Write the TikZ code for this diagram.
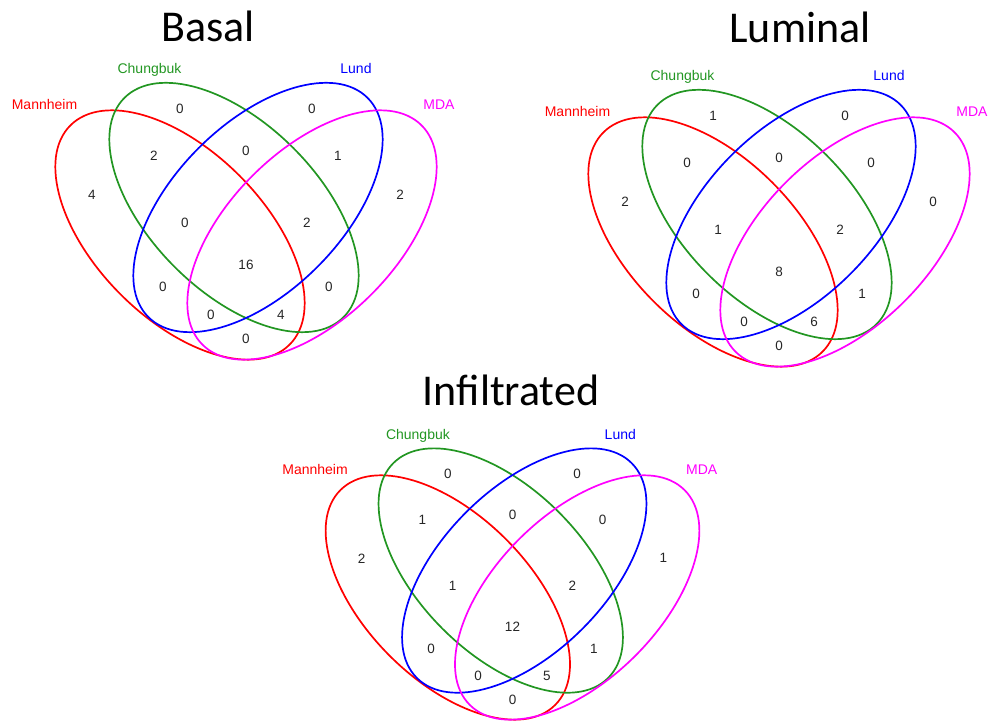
\documentclass[tikz,border=0pt]{standalone}
\usepackage{fontspec}
\setmainfont{Liberation Sans}
\newfontfamily\titlefont{Carlito}
\usetikzlibrary{positioning}
\definecolor{vred}{RGB}{255,0,0}
\definecolor{vgreen}{RGB}{34,150,34}
\definecolor{vblue}{RGB}{0,0,255}
\definecolor{vmagenta}{RGB}{255,0,255}

% four ellipses, set names and region anchors of one diagram
\newcommand{\vennsets}[1]{%
  \draw[setline, vred, shift={(-66,0)}, rotate=-45] (0,0) ellipse [x radius=155, y radius=84];
  \draw[setline, vgreen, shift={(-12,27.5)}, rotate=-45] (0,0) ellipse [x radius=155, y radius=84];
  \draw[setline, vblue, shift={(12,27.5)}, rotate=45] (0,0) ellipse [x radius=155, y radius=84];
  \draw[setline, vmagenta, shift={(66,0)}, rotate=45] (0,0) ellipse [x radius=155, y radius=84];
  \node[setlabel, text=vred] (#1-man) at (-201.5,125) {Mannheim};
  \node[setlabel, text=vgreen] (#1-chu) at (-96.5,161.5) {Chungbuk};
  \node[setlabel, text=vblue] (#1-lun) at (110,161.5) {Lund};
  \node[setlabel, text=vmagenta] (#1-mda) at (193,125) {MDA};
  % regions
  \coordinate (#1-r) at (-154,40);
  \coordinate (#1-g) at (-66,126);
  \coordinate (#1-b) at (66,126);
  \coordinate (#1-m) at (154,40);
  \coordinate (#1-rg) at (-92,79);
  \coordinate (#1-gb) at (0,84);
  \coordinate (#1-bm) at (92,79);
  \coordinate (#1-rgb) at (-61,12);
  \coordinate (#1-gbm) at (61,12);
  \coordinate (#1-all) at (0,-30);
  \coordinate (#1-rb) at (-83,-52);
  \coordinate (#1-gm) at (83,-52);
  \coordinate (#1-rbm) at (-35,-80);
  \coordinate (#1-rgm) at (35,-80);
  \coordinate (#1-rm) at (0,-104);
}

\begin{document}
\begin{tikzpicture}[
    x=1pt, y=1pt,
    setline/.style={line width=1.7pt},
    setlabel/.style={anchor=base, inner sep=0pt, font=\fontsize{14}{16}\selectfont},
    count/.style={inner sep=0pt, text=black!85, font=\fontsize{13.5}{16}\selectfont},
    heading/.style={anchor=base, inner sep=0pt, font=\titlefont\fontsize{44}{50}\selectfont}]

    \useasboundingbox (0,0) rectangle (991,722);

    % Titles
    \node[heading] (tbas) at (208,680) {Basal};
    \node[heading] (tlum) at (800,679) {Luminal};
    \node[heading] (tinf) at (511,316) {Infiltrated};

    % Basal
    \begin{scope}[shift={(246,487)}]
        \vennsets{bas}
        \foreach \rg/\n in {r/4, g/0, b/0, m/2, rg/2, gb/0, bm/1, rgb/0, gbm/2,
                            all/16, rb/0, gm/0, rbm/0, rgm/4, rm/0}
            \node[count] (bas-n\rg) at (bas-\rg) {\n};
    \end{scope}

    % Luminal
    \begin{scope}[shift={(779,480)}]
        \vennsets{lum}
        \foreach \rg/\n in {r/2, g/1, b/0, m/0, rg/0, gb/0, bm/0, rgb/1, gbm/2,
                            all/8, rb/0, gm/1, rbm/0, rgm/6, rm/0}
            \node[count] (lum-n\rg) at (lum-\rg) {\n};
    \end{scope}

    % Infiltrated
    \begin{scope}[shift={(512.5,124.5)}, scale=0.98]
        \vennsets{inf}
        \foreach \rg/\n in {r/2, g/0, b/0, m/1, rg/1, gb/0, bm/0, rgb/1, gbm/2,
                            all/12, rb/0, gm/1, rbm/0, rgm/5, rm/0}
            \node[count] (inf-n\rg) at (inf-\rg) {\n};
    \end{scope}
\end{tikzpicture}
\end{document}
